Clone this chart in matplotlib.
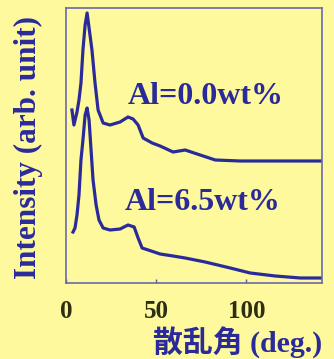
import matplotlib
matplotlib.use('Agg')
import matplotlib.pyplot as plt

# 散乱角 (deg.) と強度 (任意単位)
angle_a = [3.3, 4.4, 6.1, 7.2, 8.3, 9.4, 10.6, 11.7, 12.8, 14.4, 16.1, 17.8, 20.6, 24.4,
           30.0, 34.4, 37.2, 40.0, 42.8, 47.8, 52.2, 59.4, 66.1, 74.4, 82.8, 96.7,
           118.9, 142.2]
inten_a = [180, 165, 178, 190, 207, 240, 265, 277, 262, 240, 207, 180, 167, 165,
           168, 173, 171, 165, 152, 147, 144, 138, 140, 135, 130, 129, 129, 129]

angle_b = [3.9, 5.0, 6.1, 7.2, 8.3, 9.4, 10.6, 11.7, 12.8, 13.9, 15.0, 16.7, 18.3, 20.6,
           24.4, 30.0, 34.4, 37.8, 40.0, 42.2, 45.6, 52.2, 59.4, 66.1, 77.2, 91.1,
           102.2, 116.1, 130.0, 142.2]
inten_b = [58, 62, 75, 95, 130, 150, 175, 182, 170, 140, 110, 85, 70, 62,
           60, 61, 65, 63, 52, 42, 40, 36, 34, 32, 28, 22, 17, 14, 12, 12]

labels = ['Al=0.0wt%', 'Al=6.5wt%']
xticks = [0, 50, 100]

bg = '#FDF99C'
blue = '#2A2A9A'

fig = plt.figure(figsize=(3.34, 3.59), dpi=100, facecolor=bg)
ax = fig.add_axes([66/334, 76/359, 256/334, 275/359], facecolor=bg)

ax.plot(angle_a, inten_a, color=blue, lw=2.3)
ax.plot(angle_b, inten_b, color=blue, lw=2.3)

serif = ['Liberation Serif', 'DejaVu Serif']
ax.text(34.4, 193, labels[0], color=blue, fontsize=23, fontweight='bold',
        family=serif, va='center', ha='left')
ax.text(32.8, 88, labels[1], color=blue, fontsize=23, fontweight='bold',
        family=serif, va='center', ha='left')

ax.set_xlim(0, 142)
ax.set_ylim(7, 282)
ax.set_xticks(xticks)
ax.set_yticks([])
ax.tick_params(axis='x', direction='in', length=3, width=1, color='#5A5AA0', pad=12,
               labelsize=18, labelcolor='#2E2E14')
for t in ax.get_xticklabels():
    t.set_fontfamily(serif)
    t.set_fontweight('bold')
for s in ax.spines.values():
    s.set_color('#6A6AAE')
    s.set_linewidth(1.2)

fig.text(28/334, 0.589, 'Intensity (arb. unit)', rotation=90, color=blue, fontsize=22.5,
         fontweight='bold', family=serif, va='center', ha='center')
# 参照図では右端で少し切れているが、収まるように少し縮める
fig.text(153/334, 0.045, '散乱角 (deg.)', color=blue, fontsize=21.5, fontweight='bold',
         family=['Liberation Serif', 'Noto Sans CJK JP'], va='center', ha='left')

fig.savefig('out.png', dpi=100, facecolor=bg)
